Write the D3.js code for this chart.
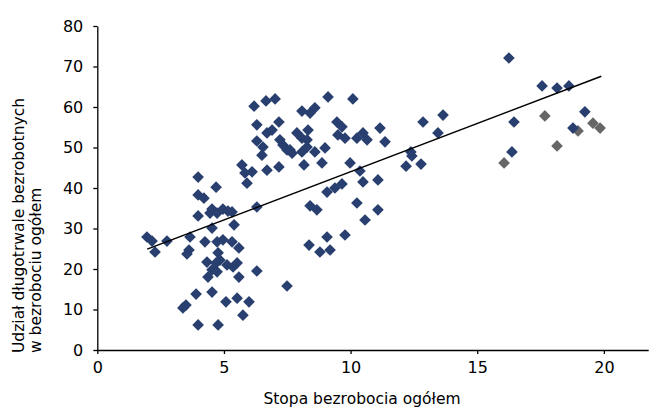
<!DOCTYPE html>
<html>
<head>
<meta charset="utf-8">
<script src="https://cdn.jsdelivr.net/npm/d3@7"></script>
<style>
  body { margin: 0; background: #fff; }
  svg { display: block; }
</style>
</head>
<body>
<svg id="chart" width="650" height="408"></svg>
<script>
// Stopa bezrobocia ogółem (%) and udział długotrwale bezrobotnych (%) – main group
const rateMain = [
  1.96, 2.16, 2.28, 2.75, 3.38, 3.50, 3.66, 3.62, 3.54, 3.90,
  3.98, 3.98, 3.98, 3.98, 4.21, 4.69, 4.45, 4.53, 4.73, 4.96,
  5.32, 4.53, 5.40, 4.25, 4.73, 4.96, 5.32, 5.59, 4.77, 4.33,
  4.84, 5.12, 5.52, 4.53, 4.37, 4.73, 5.36, 5.59, 6.30, 4.53,
  5.08, 5.52, 5.99, 5.75, 4.77, 6.30, 5.16, 4.69, 5.71, 5.83,
  6.11, 5.91, 6.19, 6.66, 7.02, 6.30, 7.17, 6.30, 6.70, 6.90,
  6.54, 6.50, 7.21, 7.49, 6.70, 7.17, 7.33, 7.61, 7.69, 8.08,
  8.40, 8.59, 9.11, 10.09, 7.88, 8.32, 8.08, 8.28, 8.08, 8.28,
  8.59, 8.99, 9.46, 9.66, 9.50, 9.78, 10.25, 10.49, 10.65, 11.16,
  11.36, 8.16, 8.87, 9.98, 10.37, 10.49, 11.08, 9.07, 9.38, 9.66,
  8.40, 8.67, 10.25, 11.08, 10.57, 9.78, 9.07, 8.36, 8.79, 9.19,
  7.49, 12.86, 13.65, 13.45, 12.38, 12.42, 12.19, 12.78, 16.25, 17.56,
  18.15, 18.62, 16.45, 19.25, 18.78, 16.37
];
const shareMain = [
  27.9, 26.9, 24.2, 26.9, 10.4, 11.1, 27.9, 24.7, 23.7, 13.8,
  6.2, 33.1, 42.7, 38.3, 37.5, 40.2, 33.8, 34.8, 33.8, 34.8,
  34.1, 30.1, 30.9, 26.7, 26.7, 27.2, 26.7, 25.2, 24.0, 21.7,
  22.2, 21.0, 21.5, 19.8, 18.0, 19.3, 20.5, 18.0, 19.5, 14.3,
  11.9, 12.8, 11.9, 8.6, 6.2, 35.3, 34.3, 21.5, 45.7, 43.7,
  44.0, 41.2, 60.2, 61.5, 62.0, 55.6, 56.3, 51.6, 53.6, 54.3,
  50.1, 48.1, 51.9, 49.4, 44.4, 45.2, 50.6, 49.4, 48.6, 59.0,
  58.5, 59.8, 62.5, 62.0, 53.6, 54.3, 52.3, 51.9, 48.9, 50.1,
  48.9, 49.9, 56.3, 55.1, 53.1, 52.3, 52.3, 53.6, 51.9, 54.8,
  51.4, 45.7, 46.2, 46.2, 44.2, 41.5, 42.0, 39.0, 40.0, 41.0,
  35.6, 34.6, 36.3, 34.6, 32.1, 28.4, 27.9, 25.9, 24.2, 24.7,
  15.8, 56.3, 58.0, 53.6, 48.9, 47.9, 45.4, 45.9, 72.1, 65.2,
  64.7, 65.2, 56.3, 58.8, 54.8, 48.9
];

// Second group (grey markers)
const rateOther  = [17.67, 18.15, 16.06, 18.98, 19.57, 19.85];
const shareOther = [57.8, 50.4, 46.2, 54.1, 56.0, 54.8];

// Linear trend line, start and end
const trendRate  = [1.97, 19.9];
const trendShare = [24.9, 67.6];

const xTickValues = [0, 5, 10, 15, 20];
const yTickValues = [0, 10, 20, 30, 40, 50, 60, 70, 80];

const xTitle = "Stopa bezrobocia ogółem";
const yTitleLines = ["Udział długotrwale bezrobotnych", "w bezrobociu ogółem"];

const svg = d3.select("#chart");
const FONT = "'DejaVu Sans', Verdana, sans-serif";

const x = d3.scaleLinear().domain([0, 21.75]).range([97.3, 648.2]);
const y = d3.scaleLinear().domain([0, 80]).range([350, 26]);

// Axes
const xAxis = d3.axisBottom(x).tickValues(xTickValues).tickSize(4).tickSizeOuter(0).tickPadding(8);
const yAxis = d3.axisLeft(y).tickValues(yTickValues).tickSize(4).tickSizeOuter(0).tickPadding(10);

const gx = svg.append("g").attr("transform", `translate(0,${y(0)})`).call(xAxis);
const gy = svg.append("g").attr("transform", `translate(${x(0)},0)`).call(yAxis);

[gx, gy].forEach(g => {
  g.selectAll("path.domain").attr("stroke", "#000").attr("stroke-width", 1.3);
  g.selectAll(".tick line").attr("stroke", "#000").attr("stroke-width", 1.3);
  g.selectAll(".tick text")
    .attr("fill", "#000")
    .style("font-family", FONT)
    .style("font-size", "16px");
});

// Markers
const diamond = d3.symbol().type(d3.symbolSquare).size(68);

function drawGroup(rates, shares, color) {
  svg.append("g")
    .selectAll("path")
    .data(rates.map((r, i) => [r, shares[i]]))
    .join("path")
    .attr("d", diamond)
    .attr("transform", d => `translate(${x(d[0])},${y(d[1])}) rotate(45)`)
    .attr("fill", color);
}

drawGroup(rateOther, shareOther, "#666666");
drawGroup(rateMain, shareMain, "#283f6f");

// Trend line
svg.append("line")
  .attr("x1", x(trendRate[0])).attr("y1", y(trendShare[0]))
  .attr("x2", x(trendRate[1])).attr("y2", y(trendShare[1]))
  .attr("stroke", "#000")
  .attr("stroke-width", 1.5);

// Axis titles
svg.append("text")
  .attr("x", 362).attr("y", 404)
  .attr("text-anchor", "middle")
  .style("font-family", FONT)
  .style("font-size", "15.5px")
  .attr("fill", "#000")
  .text(xTitle);

const yt = svg.append("text")
  .attr("transform", "translate(0,353) rotate(-90)")
  .attr("text-anchor", "start")
  .style("font-family", FONT)
  .style("font-size", "15.5px")
  .attr("fill", "#000");
yt.selectAll("tspan")
  .data(yTitleLines)
  .join("tspan")
  .attr("x", 0)
  .attr("y", (d, i) => 24 + i * 16.5)
  .text(d => d);
</script>
</body>
</html>
